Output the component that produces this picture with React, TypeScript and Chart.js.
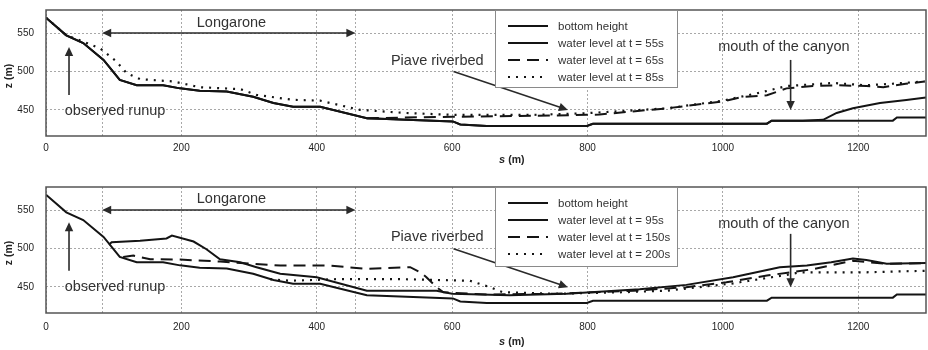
import React, { useEffect, useRef } from "react";
import { Chart, registerables } from "chart.js";

Chart.register(...registerables);

// ---------------- data ----------------
const xTickValues = [0, 200, 400, 600, 800, 1000, 1200];
const yTickValues = [450, 500, 550];
const xMin = 0;
const xMax = 1300;
const yMin = 416;
const yMax = 580;

// bottom height (same in both panels)
const sBottom = [0, 30, 55, 85, 109, 134, 173, 198, 227, 267, 306, 336, 365, 405, 474, 601, 612, 651, 799, 808, 1065, 1072, 1251, 1257, 1300];
const zBottom = [570, 547, 537, 515, 489, 482, 482, 478, 475, 474, 467, 459, 454, 454, 439, 435, 431, 429, 429, 432, 432, 436, 436, 440, 440];

// upper panel
const s55 = [0, 30, 55, 85, 109, 134, 173, 198, 227, 267, 306, 336, 365, 405, 474, 601, 612, 651, 799, 808, 1065, 1072, 1118, 1148, 1168, 1192, 1232, 1271, 1300];
const z55 = [570, 547, 537, 515, 489, 482, 482, 478, 475, 474, 467, 459, 454, 454, 439, 435, 431, 429, 429, 432, 432, 436, 436, 437, 446, 452, 459, 463, 466];

const s65 = [474, 530, 600, 700, 799, 818, 917, 1000, 1030, 1065, 1094, 1133, 1170, 1212, 1237, 1270, 1298];
const z65 = [439, 440, 441, 442, 443.5, 444, 452, 461, 467, 469, 478, 481, 482, 481, 479.5, 484, 487];

const s85 = [0, 30, 55, 80, 104, 119, 139, 188, 227, 287, 311, 365, 405, 464, 530, 602, 719, 799, 917, 1000, 1055, 1094, 1163, 1212, 1250, 1298];
const z85 = [570, 547, 539, 530, 513, 498, 490, 487, 479.5, 477, 469.5, 463, 462, 450, 446, 443.5, 443.5, 445.7, 452, 462, 472.5, 481, 485, 482, 484, 487];

// lower panel
const s95 = [93, 97, 139, 178, 186, 218, 237, 257, 287, 311, 346, 400, 474, 577, 600, 685, 769, 877, 946, 1015, 1084, 1124, 1160, 1192, 1212, 1242, 1300];
const z95 = [505, 508, 510, 513, 516.7, 509, 499, 486, 482, 475.6, 467, 462.6, 445, 445, 441, 439, 441, 447, 452.6, 462.6, 475.6, 477.7, 482, 487, 485, 480, 481];

const s150 = [114, 129, 154, 198, 257, 306, 346, 420, 474, 538, 553, 562, 577, 587, 650, 750, 868, 946, 1005, 1065, 1133, 1192, 1242, 1300];
const z150 = [489, 490.7, 486, 485.5, 483, 480, 477.7, 477.7, 473.4, 475.6, 469, 462.6, 449.6, 443, 440, 441, 445, 449.6, 456, 464.7, 473, 484, 480, 481];

const s200 = [331, 360, 429, 528, 626, 656, 675, 750, 850, 917, 1015, 1025, 1094, 1114, 1212, 1300];
const z200 = [460, 458, 460, 460, 458, 449.6, 443, 441, 443, 445, 454.5, 456, 465.6, 469, 469, 471];

const labelsTop = ["bottom height", "water level at t = 55s", "water level at t = 65s", "water level at t = 85s"];
const labelsBottom = ["bottom height", "water level at t = 95s", "water level at t = 150s", "water level at t = 200s"];

// Longarone boundaries (s)
const longaroneBounds = [83, 457];

// ---------------- styles / annotations ----------------
const FONT = "'Liberation Sans', Arial, Helvetica, sans-serif";
const INK = "#141414";
const TEXT = "#333";
const GRID = "#a8a8a8";

type Style = { dash: number[]; width: number };
const SOLID: Style = { dash: [], width: 2 };
const DASHED: Style = { dash: [12, 7], width: 2 };
const DOTTED: Style = { dash: [2, 6], width: 2.2 };

type Txt = { t: string; s: number; z: number };
type Arr = { s1: number; z1: number; s2: number; z2: number; both?: boolean };

const textsTop: Txt[] = [
  { t: "Longarone", s: 274, z: 563.5 },
  { t: "observed runup", s: 102, z: 448 },
  { t: "Piave riverbed", s: 578, z: 513.5 },
  { t: "mouth of the canyon", s: 1090, z: 532 },
];
const arrowsTop: Arr[] = [
  { s1: 83, z1: 550, s2: 457, z2: 550, both: true },
  { s1: 34, z1: 469.5, s2: 34, z2: 532 },
  { s1: 602, z1: 500, s2: 771, z2: 450 },
  { s1: 1100, z1: 515, s2: 1100, z2: 450 },
];
const textsBottom: Txt[] = [
  { t: "Longarone", s: 274, z: 564 },
  { t: "observed runup", s: 102, z: 450 },
  { t: "Piave riverbed", s: 578, z: 514.5 },
  { t: "mouth of the canyon", s: 1090, z: 532 },
];
const arrowsBottom: Arr[] = [
  { s1: 83, z1: 550, s2: 457, z2: 550, both: true },
  { s1: 34, z1: 471, s2: 34, z2: 534 },
  { s1: 602, z1: 499.5, s2: 771, z2: 449.6 },
  { s1: 1100, z1: 519, s2: 1100, z2: 449.6 },
];

function pts(xs: number[], ys: number[]) {
  return xs.map((x, i) => ({ x, y: ys[i] }));
}

function ds(label: string, xs: number[], ys: number[], st: Style) {
  return {
    label,
    data: pts(xs, ys),
    showLine: true,
    borderColor: INK,
    backgroundColor: INK,
    borderWidth: st.width,
    borderDash: st.dash,
    pointRadius: 0,
    pointHoverRadius: 0,
    tension: 0,
    fill: false,
  };
}

function arrowHead(ctx: CanvasRenderingContext2D, x1: number, y1: number, x2: number, y2: number) {
  const a = Math.atan2(y2 - y1, x2 - x1);
  const L = 9;
  const W = 4.2;
  const bx = x2 - L * Math.cos(a);
  const by = y2 - L * Math.sin(a);
  ctx.beginPath();
  ctx.moveTo(x2, y2);
  ctx.lineTo(bx + W * Math.sin(a), by - W * Math.cos(a));
  ctx.lineTo(bx - W * Math.sin(a), by + W * Math.cos(a));
  ctx.closePath();
  ctx.fill();
}

type PanelCfg = {
  texts: Txt[];
  arrows: Arr[];
  styles: Style[];
  titleDy: number;
  legendH: number;
};

function makeOverlay(p: PanelCfg) {
  return {
    id: "overlay",
    beforeDatasetsDraw(chart: any) {
      const { ctx, chartArea: a, scales } = chart;
      const x = scales.x;
      ctx.save();
      ctx.strokeStyle = GRID;
      ctx.lineWidth = 1;
      ctx.setLineDash([2, 2]);
      for (const s of longaroneBounds) {
        const px = Math.round(x.getPixelForValue(s)) + 0.5;
        ctx.beginPath();
        ctx.moveTo(px, a.top);
        ctx.lineTo(px, a.bottom);
        ctx.stroke();
      }
      ctx.restore();
    },
    afterDatasetsDraw(chart: any) {
      const { ctx, chartArea: a, scales } = chart;
      const x = scales.x;
      const y = scales.y;
      ctx.save();
      // frame
      ctx.setLineDash([]);
      ctx.strokeStyle = "#555";
      ctx.lineWidth = 1.5;
      ctx.strokeRect(a.left, a.top, a.right - a.left, a.bottom - a.top);

      // annotation texts
      ctx.fillStyle = TEXT;
      ctx.font = `14.5px ${FONT}`;
      ctx.textAlign = "center";
      ctx.textBaseline = "middle";
      for (const t of p.texts) {
        ctx.fillText(t.t, x.getPixelForValue(t.s), y.getPixelForValue(t.z));
      }
      // arrows
      ctx.strokeStyle = "#2a2a2a";
      ctx.fillStyle = "#2a2a2a";
      ctx.lineWidth = 1.6;
      for (const r of p.arrows) {
        const x1 = x.getPixelForValue(r.s1);
        const y1 = y.getPixelForValue(r.z1);
        const x2 = x.getPixelForValue(r.s2);
        const y2 = y.getPixelForValue(r.z2);
        const ang = Math.atan2(y2 - y1, x2 - x1);
        const sx = r.both ? x1 + 6 * Math.cos(ang) : x1;
        const sy = r.both ? y1 + 6 * Math.sin(ang) : y1;
        ctx.beginPath();
        ctx.moveTo(sx, sy);
        ctx.lineTo(x2 - 6 * Math.cos(ang), y2 - 6 * Math.sin(ang));
        ctx.stroke();
        arrowHead(ctx, x1, y1, x2, y2);
        if (r.both) arrowHead(ctx, x2, y2, x1, y1);
      }

      // legend
      const lx = a.left + 449;
      const ly = a.top;
      const lw = 183;
      const lh = p.legendH;
      ctx.fillStyle = "#fff";
      ctx.fillRect(lx, ly, lw, lh);
      ctx.strokeStyle = "#8a8a8a";
      ctx.lineWidth = 1;
      ctx.strokeRect(lx + 0.5, ly + 0.5, lw - 1, lh - 1);
      ctx.font = `11.5px ${FONT}`;
      ctx.textAlign = "left";
      ctx.textBaseline = "middle";
      chart.data.datasets.forEach((d: any, i: number) => {
        const st = p.styles[i];
        const ry = ly + 16 + i * 17;
        ctx.strokeStyle = INK;
        ctx.lineWidth = st.width;
        ctx.setLineDash(st.dash);
        ctx.beginPath();
        ctx.moveTo(lx + 13, ry);
        ctx.lineTo(lx + 53, ry);
        ctx.stroke();
        ctx.setLineDash([]);
        ctx.fillStyle = TEXT;
        ctx.fillText(d.label, lx + 63, ry + 0.5);
      });

      // axis titles
      ctx.fillStyle = "#222";
      ctx.textBaseline = "middle";
      const tx = x.getPixelForValue(688);
      const ty = a.bottom + p.titleDy;
      ctx.font = `italic bold 11px ${FONT}`;
      const sW = ctx.measureText("s ").width;
      ctx.font = `bold 10.5px ${FONT}`;
      const mW = ctx.measureText("(m)").width;
      const start = tx - (sW + mW) / 2;
      ctx.textAlign = "left";
      ctx.font = `italic bold 11px ${FONT}`;
      ctx.fillText("s ", start, ty);
      ctx.font = `bold 10.5px ${FONT}`;
      ctx.fillText("(m)", start + sW, ty);

      ctx.save();
      ctx.translate(9, (a.top + a.bottom) / 2 + 3);
      ctx.rotate(-Math.PI / 2);
      ctx.textAlign = "center";
      ctx.font = `bold 10.5px ${FONT}`;
      ctx.fillText("z (m)", 0, 0);
      ctx.restore();

      ctx.restore();
    },
  };
}

function buildChart(
  canvas: HTMLCanvasElement,
  datasets: any[],
  p: PanelCfg,
  padTop: number,
  axisH: number,
  tickPad: number
) {
  return new Chart(canvas, {
    type: "scatter",
    data: { datasets },
    options: {
      animation: false,
      responsive: false,
      devicePixelRatio: 1,
      events: [],
      layout: { padding: { top: padTop, right: 2, left: 0, bottom: 0 } },
      plugins: { legend: { display: false }, tooltip: { enabled: false }, title: { display: false } },
      scales: {
        x: {
          type: "linear",
          min: xMin,
          max: xMax,
          afterBuildTicks: (s: any) => {
            s.ticks = xTickValues.map((v) => ({ value: v }));
          },
          afterFit: (s: any) => {
            s.height = axisH;
            s.paddingLeft = 0;
            s.paddingRight = 0;
            s.paddingTop = 0;
            s.paddingBottom = 0;
          },
          grid: { color: GRID, lineWidth: 1, drawTicks: false },
          border: { display: false, dash: [2, 2] },
          ticks: {
            padding: tickPad,
            color: "#1e1e1e",
            font: { family: FONT, size: 10 },
            maxRotation: 0,
            callback: (v: any) => String(v),
          },
        },
        y: {
          type: "linear",
          min: yMin,
          max: yMax,
          afterBuildTicks: (s: any) => {
            s.ticks = yTickValues.map((v) => ({ value: v }));
          },
          afterFit: (s: any) => {
            s.width = 46;
            s.paddingLeft = 0;
            s.paddingRight = 0;
            s.paddingTop = 0;
            s.paddingBottom = 0;
          },
          grid: { color: GRID, lineWidth: 1, drawTicks: false },
          border: { display: false, dash: [2, 2] },
          ticks: {
            padding: 12,
            color: "#1e1e1e",
            font: { family: FONT, size: 10 },
            callback: (v: any) => String(v),
          },
        },
      },
    },
    plugins: [makeOverlay(p)],
  } as any);
}

export default function App() {
  const topRef = useRef<HTMLCanvasElement>(null);
  const botRef = useRef<HTMLCanvasElement>(null);

  useEffect(() => {
    const stylesTop = [SOLID, SOLID, DASHED, DOTTED];
    const topSets = [
      ds(labelsTop[0], sBottom, zBottom, stylesTop[0]),
      ds(labelsTop[1], s55, z55, stylesTop[1]),
      ds(labelsTop[2], s65, z65, stylesTop[2]),
      ds(labelsTop[3], s85, z85, stylesTop[3]),
    ];
    const stylesBot = [SOLID, SOLID, DASHED, DOTTED];
    const botSets = [
      ds(labelsBottom[0], sBottom, zBottom, stylesBot[0]),
      ds(labelsBottom[1], s95, z95, stylesBot[1]),
      ds(labelsBottom[2], s150, z150, stylesBot[2]),
      ds(labelsBottom[3], s200, z200, stylesBot[3]),
    ];
    const c1 = buildChart(
      topRef.current!,
      topSets,
      { texts: textsTop, arrows: arrowsTop, styles: stylesTop, titleDy: 24, legendH: 78 },
      10,
      34,
      6
    );
    const c2 = buildChart(
      botRef.current!,
      botSets,
      { texts: textsBottom, arrows: arrowsBottom, styles: stylesBot, titleDy: 29, legendH: 80 },
      17,
      37,
      8
    );
    return () => {
      c1.destroy();
      c2.destroy();
    };
  }, []);

  return (
    <div style={{ position: "absolute", left: 0, top: 0, width: 928, height: 350, background: "#fff" }}>
      <canvas ref={topRef} width={928} height={170} style={{ display: "block", position: "absolute", left: 0, top: 0 }} />
      <canvas ref={botRef} width={928} height={180} style={{ display: "block", position: "absolute", left: 0, top: 170 }} />
    </div>
  );
}
